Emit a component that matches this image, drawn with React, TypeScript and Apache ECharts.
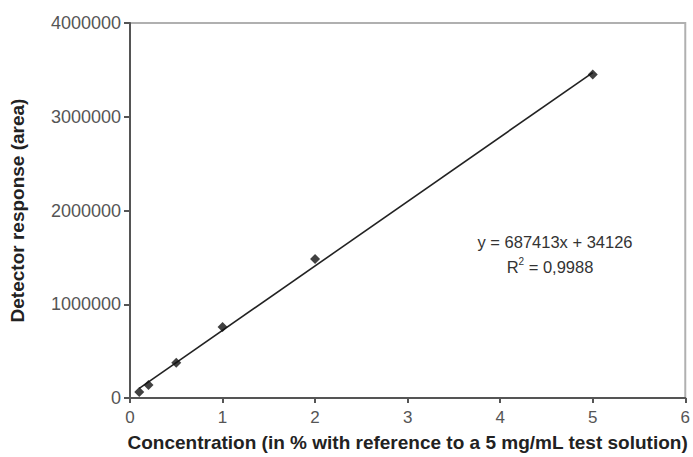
import React, { useEffect, useRef } from "react";
import * as echarts from "echarts";

// Calibration measurements: concentration (%) vs detector peak area
const concentrations = [0.1, 0.2, 0.5, 1, 2, 5];
const responses = [65000, 138000, 375000, 758000, 1482000, 3450000];

// Linear fit reported for the calibration
const slope = 687413;
const intercept = 34126;
const rSquared = "0,9988";

const xTicks = [0, 1, 2, 3, 4, 5, 6];
const yTicks = [0, 1000000, 2000000, 3000000, 4000000];

const FONT = "'Liberation Sans', Arial, Helvetica, sans-serif";

export default function App() {
  const ref = useRef<HTMLDivElement>(null);

  useEffect(() => {
    document.body.style.margin = "0";
    if (!ref.current) return;
    const chart = echarts.init(ref.current, null, { renderer: "svg" });

    const points = concentrations.map((c, i) => [c, responses[i]]);
    const xStart = concentrations[0];
    const xEnd = concentrations[concentrations.length - 1];
    const fitLine = [
      [xStart, slope * xStart + intercept],
      [xEnd, slope * xEnd + intercept],
    ];

    chart.setOption({
      animation: false,
      backgroundColor: "#ffffff",
      textStyle: { fontFamily: FONT },
      grid: {
        left: 126,
        right: 1,
        top: 23,
        bottom: 49,
        show: true,
        borderColor: "#b0b0b0",
        borderWidth: 2,
      },
      xAxis: {
        type: "value",
        min: xTicks[0],
        max: xTicks[xTicks.length - 1],
        interval: 1,
        name: "Concentration (in % with reference to a 5 mg/mL test solution)",
        nameLocation: "middle",
        nameGap: 35,
        nameTextStyle: {
          fontFamily: FONT,
          fontSize: 19,
          fontWeight: "bold",
          color: "#222",
        },
        axisLine: { onZero: false, lineStyle: { color: "#555", width: 2 } },
        axisTick: { show: true, length: 5, lineStyle: { color: "#555", width: 2 } },
        axisLabel: { fontFamily: FONT, fontSize: 17, color: "#555", margin: 11 },
        splitLine: { show: false },
      },
      yAxis: {
        type: "value",
        min: yTicks[0],
        max: yTicks[yTicks.length - 1],
        interval: 1000000,
        name: "Detector response (area)",
        nameLocation: "middle",
        nameGap: 103,
        nameTextStyle: {
          fontFamily: FONT,
          fontSize: 19,
          fontWeight: "bold",
          color: "#222",
        },
        axisLine: { show: true, lineStyle: { color: "#555", width: 2 } },
        axisTick: { show: true, length: 6, lineStyle: { color: "#555", width: 2 } },
        axisLabel: {
          fontFamily: FONT,
          fontSize: 18,
          color: "#555",
          margin: 9,
          formatter: (v: number) => String(v),
        },
        splitLine: { show: false },
      },
      series: [
        {
          type: "line",
          data: fitLine,
          symbol: "none",
          lineStyle: { color: "#222", width: 1.6 },
          z: 2,
        },
        {
          type: "scatter",
          data: points,
          symbol: "diamond",
          symbolSize: 10,
          itemStyle: { color: "#111" },
          z: 3,
        },
      ],
      graphic: [
        {
          type: "text",
          x: 555,
          y: 242,
          style: {
            text: `y = ${slope}x + ${intercept}`,
            fontFamily: FONT,
            fontSize: 16.5,
            fill: "#333",
            align: "center",
            verticalAlign: "middle",
          },
        },
        {
          type: "text",
          x: 550,
          y: 266,
          style: {
            text: `{n|R}{s|2}{n| = ${rSquared}}`,
            fontFamily: FONT,
            fill: "#333",
            align: "center",
            verticalAlign: "middle",
            rich: {
              n: { fontFamily: FONT, fontSize: 16.5, fill: "#333", verticalAlign: "bottom" },
              s: { fontFamily: FONT, fontSize: 10, fill: "#333", verticalAlign: "top", padding: [0, 0, 9, 0] },
            },
          },
        },
      ],
    });

    return () => chart.dispose();
  }, []);

  return <div ref={ref} style={{ width: 693, height: 457 }} />;
}
